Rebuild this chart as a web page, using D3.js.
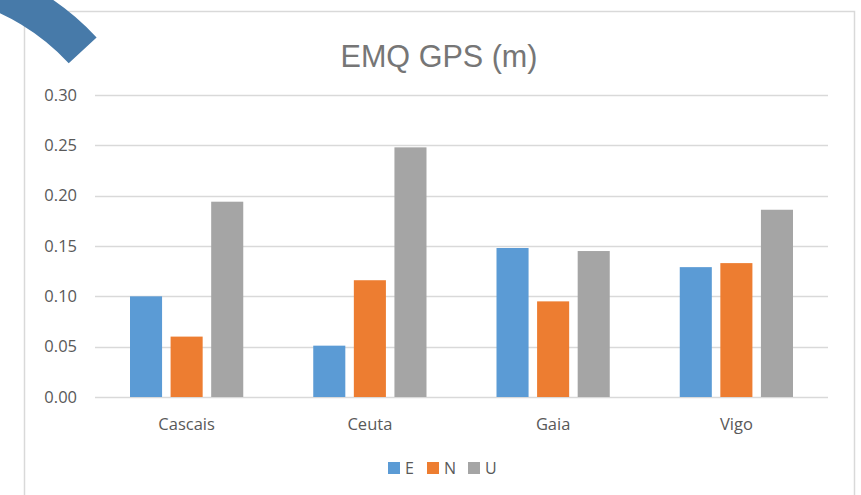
<!DOCTYPE html>
<html>
<head>
<meta charset="utf-8">
<script src="https://cdn.jsdelivr.net/npm/d3@7"></script>
<style>
  html, body { margin: 0; padding: 0; background: #fff; }
  svg { display: block; }
</style>
</head>
<body>
<svg id="chart" width="861" height="495"></svg>
<script>
// Data
const categories = ["Cascais", "Ceuta", "Gaia", "Vigo"];
const seriesNames = ["E", "N", "U"];
const valuesE = [0.100, 0.051, 0.148, 0.129];
const valuesN = [0.060, 0.116, 0.095, 0.133];
const valuesU = [0.194, 0.248, 0.145, 0.186];
const yTicks = [0.00, 0.05, 0.10, 0.15, 0.20, 0.25, 0.30];
const colors = ["#5b9bd5", "#ed7d31", "#a5a5a5"];
const title = "EMQ GPS (m)";

const seriesValues = [valuesE, valuesN, valuesU];
const rows = categories.map((c, i) => ({
  category: c,
  values: seriesNames.map((s, k) => ({ key: s, value: seriesValues[k][i] }))
}));

const svg = d3.select("#chart");
const W = 861, H = 495;
const plot = { left: 95, right: 828, top: 95, bottom: 397 };
const labelFont = "'Open Sans', 'DejaVu Sans', sans-serif";

// Chart frame
svg.append("rect")
  .attr("x", 24.5).attr("y", 11.5)
  .attr("width", 830).attr("height", 520)
  .attr("fill", "#fff")
  .attr("stroke", "#d9d9d9")
  .attr("stroke-width", 1.5);

// Scales
const x0 = d3.scaleBand().domain(categories).range([plot.left, plot.right]).padding(0);
const groupInset = 35;
const x1 = d3.scaleBand().domain(seriesNames)
  .range([groupInset, x0.bandwidth() - groupInset])
  .paddingInner(0.21).paddingOuter(0);
const y = d3.scaleLinear().domain([0, 0.30]).range([plot.bottom, plot.top]);
const color = d3.scaleOrdinal().domain(seriesNames).range(colors);

// Gridlines
svg.append("g")
  .selectAll("line")
  .data(yTicks)
  .join("line")
  .attr("x1", plot.left).attr("x2", plot.right)
  .attr("y1", d => Math.round(y(d)) + 0.5)
  .attr("y2", d => Math.round(y(d)) + 0.5)
  .attr("stroke", "#d9d9d9")
  .attr("stroke-width", 1.5);

// Y axis labels
const yAxis = d3.axisLeft(y).tickValues(yTicks).tickFormat(d3.format(".2f")).tickSize(0).tickPadding(0);
const yg = svg.append("g").attr("transform", `translate(77,0)`).call(yAxis);
yg.select(".domain").remove();
yg.selectAll("text")
  .attr("fill", "#595959")
  .style("font-family", labelFont)
  .style("font-size", "16.5px");

// Bars
const groups = svg.append("g")
  .selectAll("g")
  .data(rows)
  .join("g")
  .attr("transform", d => `translate(${x0(d.category)},0)`);

groups.selectAll("rect")
  .data(d => d.values)
  .join("rect")
  .attr("x", d => x1(d.key))
  .attr("width", x1.bandwidth())
  .attr("y", d => y(d.value))
  .attr("height", d => y(0) - y(d.value))
  .attr("fill", d => color(d.key));

// X axis labels
const xAxis = d3.axisBottom(x0).tickSize(0).tickPadding(0);
const xg = svg.append("g").attr("transform", `translate(0,${plot.bottom})`).call(xAxis);
xg.select(".domain").remove();
xg.selectAll("text")
  .attr("dy", null)
  .attr("y", 33)
  .attr("fill", "#595959")
  .style("font-family", labelFont)
  .style("font-size", "16.5px");

// Title
svg.append("text")
  .attr("x", 439).attr("y", 67)
  .attr("text-anchor", "middle")
  .attr("fill", "#767676")
  .style("font-family", "'Liberation Sans Narrow', 'Liberation Sans', Arial, sans-serif")
  .style("font-size", "32px")
  .attr("textLength", 197)
  .attr("lengthAdjust", "spacingAndGlyphs")
  .text(title);

// Legend
const legendX = [388, 427, 468];
const legend = svg.append("g")
  .selectAll("g")
  .data(seriesNames)
  .join("g")
  .attr("transform", (d, i) => `translate(${legendX[i]},462)`);
legend.append("rect")
  .attr("width", 12).attr("height", 12)
  .attr("fill", d => color(d));
legend.append("text")
  .attr("x", 17).attr("y", 12)
  .attr("fill", "#595959")
  .style("font-family", labelFont)
  .style("font-size", "16px")
  .text(d => d);

// Decorative corner arc
const arc = d3.arc()
  .innerRadius(219)
  .outerRadius(257)
  .startAngle(-0.3)
  .endAngle(0.824);
svg.append("path")
  .attr("transform", "translate(-92,212)")
  .attr("d", arc())
  .attr("fill", "#477aa9");
</script>
</body>
</html>
